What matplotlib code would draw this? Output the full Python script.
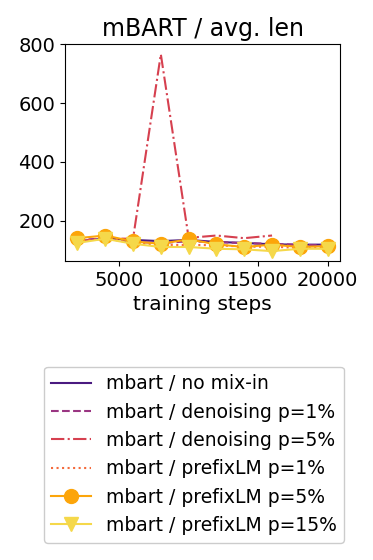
import numpy as np
import matplotlib
matplotlib.use('Agg')
import matplotlib.pyplot as plt

# training steps
steps = [2000, 4000, 6000, 8000, 10000, 12000, 14000, 16000, 18000, 20000]

# avg. len values
no_mix = [130, 140, 135, 131, 135, 128, 125, 120, 119, 119]
denoise_1 = [135, 140, 128, 125, 130, 128, 124, 122, 118, 117]
denoise_5 = [130, 140, 139, 766, 142, 150, 141, 150]
prefix_1 = [130, 140, 125, 118, 118, 117, 112, 112, 108, 108]
prefix_5 = [141, 150, 130, 122, 137, 120, 111, 119, 111, 114]
prefix_15 = [125, 139, 122, 111, 111, 105, 103, 97, 105, 105]

labels = ['mbart / no mix-in', 'mbart / denoising p=1%', 'mbart / denoising p=5%',
          'mbart / prefixLM p=1%', 'mbart / prefixLM p=5%', 'mbart / prefixLM p=15%']

fig = plt.figure(figsize=(3.73, 5.6), dpi=100)
ax = fig.add_axes([0.174, 0.534, 0.738, 0.387])

ax.plot(steps, no_mix, color='#4a1a80', lw=1.5, label=labels[0])
ax.plot(steps, denoise_1, color='#9a3582', lw=1.5, ls='--', label=labels[1])
ax.plot(steps[:len(denoise_5)], denoise_5, color='#d6404f', lw=1.5, ls='-.', label=labels[2])
ax.plot(steps, prefix_1, color='#f46a3c', lw=1.5, ls=':', label=labels[3])
ax.plot(steps, prefix_5, color='#fca50a', lw=1.5, marker='o', ms=10, label=labels[4])
ax.plot(steps, prefix_15, color='#f5d84a', lw=1.5, marker='v', ms=10, label=labels[5])

ax.set_yticks([200, 400, 600, 800])
ax.set_xticks([5000, 10000, 15000, 20000])
ax.tick_params(labelsize=14)
ax.set_xlabel('training steps', fontsize=14.5)
ax.set_title('mBART / avg. len', fontsize=17)

fig.legend(loc='upper center', bbox_to_anchor=(0.52, 0.362), fontsize=13.5,
           handlelength=2.1, framealpha=1)

fig.savefig('out.png', dpi=100)
